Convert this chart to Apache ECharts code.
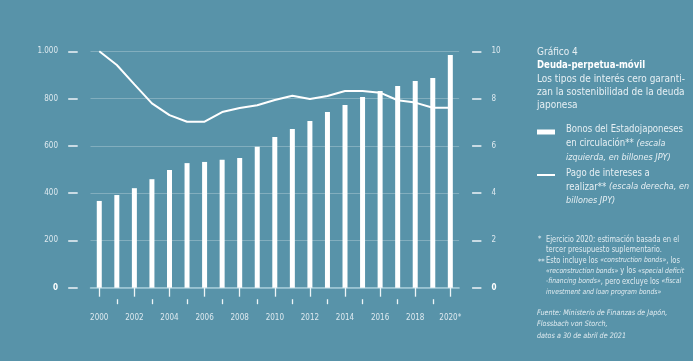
<!DOCTYPE html>
<html><head><meta charset="utf-8">
<script src="https://cdn.jsdelivr.net/npm/echarts@6/dist/echarts.min.js"></script>
<style>html,body{margin:0;padding:0;background:#5893a9;}#c{width:693px;height:361px;}</style>
</head><body><div id="c"></div>
<script>
const years = ['2000','2001','2002','2003','2004','2005','2006','2007','2008','2009','2010','2011','2012','2013','2014','2015','2016','2017','2018','2019','2020*'];
const bonds = [367,392,421,459,498,527,532,541,549,596,637,671,705,743,773,807,832,853,874,887,984];
const interest = [10.0,9.42,8.6,7.8,7.3,7.02,7.02,7.43,7.6,7.72,7.94,8.12,7.98,8.11,8.32,8.32,8.25,7.93,7.83,7.61,7.61];
const leftTicks = [0,200,400,600,800,1000];
const rightTicks = [0,2,4,6,8,10];

const FONT = "'Liberation Sans Narrow','DejaVu Sans Condensed','Roboto Condensed',Roboto,sans-serif";
const TXT = '#dde9ef';
const chart = echarts.init(document.getElementById('c'), null, {renderer:'canvas'});
const fmtLeft = v => v === 0 ? '{b|0}' : (v >= 1000 ? (v/1000).toFixed(0)+'.'+String(v%1000).padStart(3,'0') : String(v));
const fmtRight = v => v === 0 ? '{b|0}' : String(v);
const labelRich = {b:{fontWeight:'bold',fontSize:8,color:'#ffffff',fontFamily:FONT}};

chart.setOption({
  backgroundColor:'#5893a9',
  animation:false,
  textStyle:{fontFamily:FONT},
  grid:{left:90.5, top:51.3, width:368.6, height:236.4, containLabel:false},
  xAxis:[
    {type:'category', data:years, position:'bottom',
     axisLine:{show:true, lineStyle:{color:'#a4cbd9', width:1.5}},
     axisTick:{show:false}, axisLabel:{show:false}},
    {type:'category', data:years, position:'bottom', offset:9,
     axisLine:{show:false},
     axisTick:{show:true, alignWithLabel:true, length:9, interval:(i)=>i%2===0, lineStyle:{color:'#eef4f7', width:1.3}},
     axisLabel:{show:true, interval:1, margin:17, color:TXT, fontSize:8, fontFamily:FONT}},
    {type:'category', data:years, position:'bottom', offset:11.5,
     axisLine:{show:false},
     axisTick:{show:true, alignWithLabel:true, length:5, interval:(i)=>i%2===1, lineStyle:{color:'#eef4f7', width:1.3}},
     axisLabel:{show:false}}
  ],
  yAxis:[
    {type:'value', min:leftTicks[0], max:leftTicks[leftTicks.length-1], interval:200, position:'left', offset:12.8,
     axisLine:{show:false},
     axisTick:{show:true, length:9.5, lineStyle:{color:'#eef4f7', width:1.5}},
     axisLabel:{margin:19.7, color:TXT, fontSize:8, fontFamily:FONT, formatter:fmtLeft, rich:labelRich},
     splitLine:{show:true, lineStyle:{color:'rgba(255,255,255,0.25)', width:1}}},
    {type:'value', min:rightTicks[0], max:rightTicks[rightTicks.length-1], interval:2, position:'right', offset:13,
     axisLine:{show:false},
     axisTick:{show:true, length:9.3, lineStyle:{color:'#eef4f7', width:1.5}},
     axisLabel:{margin:19.3, color:TXT, fontSize:8, fontFamily:FONT, formatter:fmtRight, rich:labelRich, align:'left'},
     splitLine:{show:false}}
  ],
  series:[
    {name:'Bonos', type:'bar', data:bonds, xAxisIndex:0, yAxisIndex:0, barWidth:5, itemStyle:{color:'#ffffff'}},
    {name:'Pago', type:'line', data:interest, xAxisIndex:0, yAxisIndex:1, symbol:'none', lineStyle:{color:'#ffffff', width:2}, z:3}
  ],
  graphic:[
    {type:'text', left:537, top:46.7, scaleX:0.95, style:{
      text:'{n|Gráfico 4}\n{h|Deuda-perpetua-móvil}\n{n|Los tipos de interés cero garanti-}\n{n|zan la sostenibilidad de la deuda}\n{n|japonesa}',
      rich:{
        n:{fontFamily:FONT, fontSize:10.5, lineHeight:13.3, fill:'#e6eff3'},
        h:{fontFamily:FONT, fontSize:10, lineHeight:13.3, fontWeight:'bold', fill:'#ffffff'}
      }}},
    {type:'rect', shape:{x:537, y:129.5, width:18, height:5}, style:{fill:'#ffffff'}},
    {type:'text', left:566, top:124.7, scaleX:0.95, style:{
      text:'{n|Bonos del Estadojaponeses}\n{n|en circulación** }{i|(escala}\n{i|izquierda, en billones JPY)}',
      rich:{
        n:{fontFamily:FONT, fontSize:10, lineHeight:14, fill:'#e6eff3'},
        i:{fontFamily:FONT, fontSize:9.5, lineHeight:14, fontStyle:'italic', fill:'#e6eff3'}
      }}},
    {type:'rect', shape:{x:537, y:174, width:18, height:2}, style:{fill:'#ffffff'}},
    {type:'text', left:566, top:168, scaleX:0.95, style:{
      text:'{n|Pago de intereses a}\n{n|realizar** }{i|(escala derecha, en}\n{i|billones JPY)}',
      rich:{
        n:{fontFamily:FONT, fontSize:10, lineHeight:14, fill:'#e6eff3'},
        i:{fontFamily:FONT, fontSize:9.5, lineHeight:14, fontStyle:'italic', fill:'#e6eff3'}
      }}},
    {type:'text', left:538, top:235.5, style:{
      text:'{n|*}\n\n{n|**}',
      rich:{n:{fontFamily:FONT, fontSize:7.5, lineHeight:10.5, fill:'#e0ebf0'}}}},
    {type:'text', left:546, top:235.5, scaleX:0.93, style:{
      text:'{n|Ejercicio 2020: estimación basada en el}\n{n|tercer presupuesto suplementario.}\n{n|Esto incluye los }{i|«construction bonds»}{n|, los}\n{i|«reconstruction bonds»}{n| y los }{i|«special deficit}\n{i|-financing bonds»}{n|, pero excluye los }{i|«fiscal}\n{i|investment and loan program bonds»}',
      rich:{
        n:{fontFamily:FONT, fontSize:8, lineHeight:10.5, fill:'#e0ebf0'},
        i:{fontFamily:FONT, fontSize:7.3, lineHeight:10.5, fontStyle:'italic', fill:'#e0ebf0'}
      }}},
    {type:'text', left:537, top:307.7, scaleX:0.955, style:{
      text:'Fuente: Ministerio de Finanzas de Japón,\nFlossbach von Storch,\ndatos a 30 de abril de 2021',
      fontFamily:FONT, fontSize:7.5, lineHeight:11.2, fontStyle:'italic', fill:'#e0ebf0'}}
  ]
});
</script>
</body></html>
